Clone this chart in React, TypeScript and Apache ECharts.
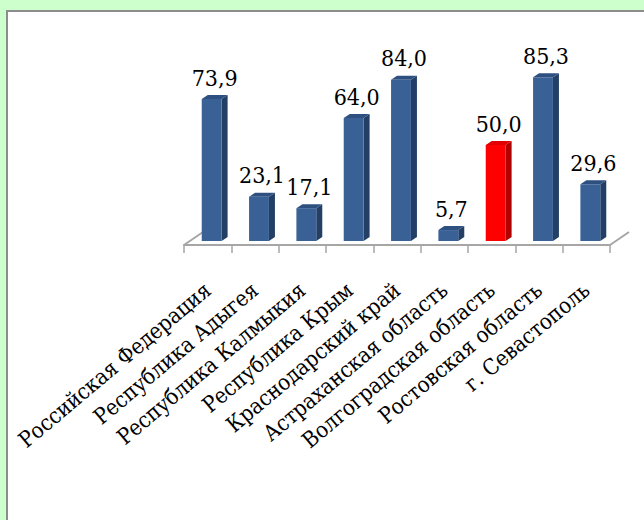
import React, { useEffect, useRef } from "react";
import * as echarts from "echarts";

const categories = [
  "Российская Федерация",
  "Республика Адыгея",
  "Республика Калмыкия",
  "Республика Крым",
  "Краснодарский край",
  "Астраханская область",
  "Волгоградская область",
  "Ростовская область",
  "г. Севастополь",
];
const values = [73.9, 23.1, 17.1, 64.0, 84.0, 5.7, 50.0, 85.3, 29.6];
const highlightIndex = 6;

const FONT = "DejaVu Serif Condensed";

export default function App() {
  const ref = useRef<HTMLDivElement>(null);
  useEffect(() => {
    if (!ref.current) return;
    const chart = echarts.init(ref.current, null, { renderer: "svg" });
    const data = values.map((v, i) => [i, v]);
    chart.setOption({
      animation: false,
      backgroundColor: "#CCFFCC",
      textStyle: { fontFamily: FONT },
      graphic: [
        {
          type: "rect",
          z: -10,
          shape: { x: 7, y: 11, width: 700, height: 600 },
          style: { fill: "#ffffff", stroke: "#8c8c8c", lineWidth: 2 },
          silent: true,
        },
      ],
      grid: { left: 184, right: 34, top: 53, bottom: 275, containLabel: false },
      xAxis: {
        type: "category",
        data: categories,
        axisLine: { show: true, lineStyle: { color: "#A6A6A6", width: 2 } },
        axisTick: { show: true, length: 8, lineStyle: { color: "#A6A6A6", width: 1.5 } },
        axisLabel: {
          rotate: 40,
          interval: 0,
          margin: 42,
          fontSize: 22,
          fontFamily: FONT,
          color: "#000000",
        },
      },
      yAxis: {
        type: "value",
        min: 0,
        max: 100,
        show: false,
        splitLine: { show: false },
      },
      series: [
        {
          type: "custom",
          data,
          renderItem: (params: any, api: any) => {
            const idx = api.value(0);
            const val = api.value(1);
            const base = api.coord([idx, 0]);
            const top = api.coord([idx, val]);
            const band = api.size([1, 0])[0];
            const w = band * 0.42;
            const shiftX = 4;
            const shiftY = 4;
            const dx = 6;
            const dy = 4;
            const x0 = base[0] - w / 2 + shiftX;
            const x1 = x0 + w;
            const yb = base[1] - shiftY;
            const yt = top[1] - shiftY;
            const red = idx === highlightIndex;
            const front = red ? "#FF0000" : "#3A6196";
            const side = red ? "#B00000" : "#243F66";
            const topC = red ? "#E00000" : "#2E5080";
            const children: any[] = [];
            if (params.dataIndex === 0) {
              const cs = params.coordSys;
              const fy = cs.y + cs.height;
              children.push({
                type: "line",
                shape: { x1: cs.x, y1: fy, x2: cs.x + 19, y2: fy - 13 },
                style: { stroke: "#A6A6A6", lineWidth: 2 },
              });
              children.push({
                type: "line",
                shape: { x1: cs.x + cs.width, y1: fy, x2: cs.x + cs.width + 19, y2: fy - 13 },
                style: { stroke: "#A6A6A6", lineWidth: 2 },
              });
            }
            children.push({
              type: "polygon",
              shape: { points: [[x1, yb], [x1 + dx, yb - dy], [x1 + dx, yt - dy], [x1, yt]] },
              style: { fill: side },
            });
            children.push({
              type: "polygon",
              shape: { points: [[x0, yt], [x0 + dx, yt - dy], [x1 + dx, yt - dy], [x1, yt]] },
              style: { fill: topC },
            });
            children.push({
              type: "rect",
              shape: { x: x0, y: yt, width: w, height: yb - yt },
              style: { fill: front },
            });
            children.push({
              type: "text",
              x: (x0 + x1 + dx) / 2,
              y: yt - dy - 6,
              style: {
                text: val.toFixed(1).replace(".", ","),
                fontSize: 23,
                fontFamily: FONT,
                fill: "#000000",
                align: "center",
                verticalAlign: "bottom",
              },
            });
            return { type: "group", children };
          },
        },
      ],
    });
    return () => chart.dispose();
  }, []);
  return (
    <div
      ref={ref}
      style={{ position: "fixed", left: 0, top: 0, width: 644, height: 520 }}
    />
  );
}
